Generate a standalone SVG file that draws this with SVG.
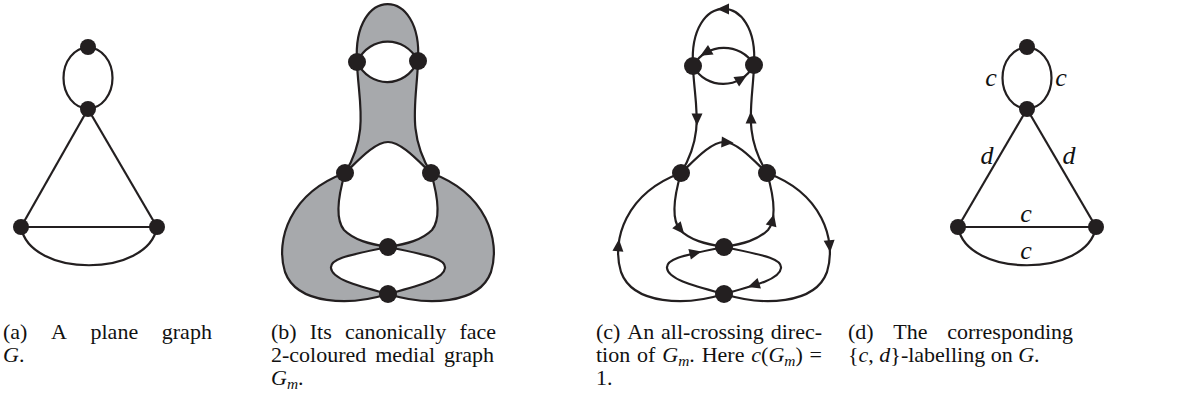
<svg xmlns="http://www.w3.org/2000/svg" width="1198" height="404" viewBox="0 0 1198 404">
<style>
.e{fill:none;stroke:#231f20;stroke-width:2.2}
.n{fill:#231f20}
.sh{fill:#a7a9ac}
.wh{fill:#fff}
.cap{font-family:"Liberation Serif","Times New Roman",serif;font-size:22px;fill:#111}
.it{font-style:italic}
.sub{font-style:italic;font-size:15.4px}
.lbl{font-family:"Liberation Serif","Times New Roman",serif;font-style:italic;font-size:26px;fill:#111;text-anchor:middle}
</style>
<defs>
<path id="ar" d="M6.5,0 L-5.5,-5.5 L-5.5,5.5 Z" fill="#231f20"/>
<circle id="ns" r="8" class="n"/>
<circle id="nb" r="9" class="n"/>
</defs>
<rect width="1198" height="404" fill="#fff"/>

<!-- (a) -->
<g id="panel-a">
<g id="a-connectors" class="e">
<ellipse cx="88" cy="78" rx="24.5" ry="30.5"/>
<line x1="88" y1="109" x2="21" y2="227"/>
<line x1="88" y1="109" x2="157" y2="227"/>
<line x1="21" y1="227" x2="157" y2="227"/>
<path d="M21,227 C30,278 148,278 157,227"/>
</g>
<g id="a-n1"><use href="#ns" x="88" y="47"/></g>
<g id="a-n2"><use href="#ns" x="88" y="109"/></g>
<g id="a-n3"><use href="#ns" x="21" y="227"/></g>
<g id="a-n4"><use href="#ns" x="157" y="227"/></g>
</g>

<!-- (b) -->
<g id="panel-b">
<g id="b-faces">
<path class="sh" d="M388,294 C350,306 297,305 285,272 C275,240 290,193 345,173 C370,132 358,100 357,62 C352,-15 423,-15 418,61 C417,100 406,132 431,173 C486,193 501,240 491,272 C479,305 426,306 388,294 Z"/>
<path class="wh" d="M357,62 C370,35 405,35 418,61 C405,89 370,89 357,62 Z"/>
<path class="wh" d="M345,173 C356,163 374,142 388,142 C402,142 420,163 431,173 C439,200 440,220 432,230 C422,240 407,244 388,247 C369,244 354,240 344,230 C336,220 337,200 345,173 Z"/>
<path class="wh" d="M388,247 C350,255 330,258 331,268 C332,279 355,285 388,294 C421,285 444,279 445,268 C446,258 426,255 388,247 Z"/>
</g>
<g id="b-connectors" class="e">
<path d="M357,62 C352,-15 423,-15 418,61"/>
<path d="M357,62 C370,35 405,35 418,61"/>
<path d="M357,62 C370,89 405,89 418,61"/>
<path d="M357,62 C358,100 370,132 345,173"/>
<path d="M418,61 C417,100 406,132 431,173"/>
<path d="M345,173 C356,163 374,142 388,142 C402,142 420,163 431,173"/>
<path d="M345,173 C337,200 336,220 344,230 C354,240 369,244 388,247"/>
<path d="M431,173 C439,200 440,220 432,230 C422,240 407,244 388,247"/>
<path d="M345,173 C290,193 275,240 285,272 C297,305 350,306 388,294"/>
<path d="M431,173 C486,193 501,240 491,272 C479,305 426,306 388,294"/>
<path d="M388,247 C350,255 330,258 331,268 C332,279 355,285 388,294"/>
<path d="M388,247 C426,255 446,258 445,268 C444,279 421,285 388,294"/>
</g>
<g id="b-n1"><use href="#nb" x="357" y="62"/></g>
<g id="b-n2"><use href="#nb" x="418" y="61"/></g>
<g id="b-n3"><use href="#nb" x="345" y="173"/></g>
<g id="b-n4"><use href="#nb" x="431" y="173"/></g>
<g id="b-n5"><use href="#nb" x="388" y="247"/></g>
<g id="b-n6"><use href="#nb" x="388" y="294"/></g>
</g>

<!-- (c) -->
<g id="panel-c">
<g id="c-connectors" class="e">
<path d="M754,65 C759,-10 688,-10 693,66"/>
<path d="M754,65 C741,42 706,42 693,66"/>
<path d="M693,66 C706,90 741,90 754,65"/>
<path d="M693,66 C694,103 706,132 681,173"/>
<path d="M767,173 C742,132 753,103 754,65"/>
<path d="M681,173 C692,163 710,142 724,142 C738,142 756,163 767,173"/>
<path d="M681,173 C673,200 672,220 680,230 C690,240 705,244 724,247"/>
<path d="M724,247 C743,244 758,240 768,230 C776,220 775,200 767,173"/>
<path d="M724,294 C686,306 633,305 621,272 C611,240 626,193 681,173"/>
<path d="M767,173 C822,193 837,240 827,272 C815,305 762,306 724,294"/>
<path d="M724,294 C691,285 668,279 667,268 C666,258 686,255 724,247"/>
<path d="M724,247 C762,255 782,258 781,268 C780,279 757,285 724,294"/>
</g>
<g id="c-arrows">
<use href="#ar" transform="translate(723.5,9) rotate(180)"/>
<use href="#ar" transform="translate(706,52.5) rotate(150)"/>
<use href="#ar" transform="translate(741,79) rotate(-31)"/>
<use href="#ar" transform="translate(697,119) rotate(90)"/>
<use href="#ar" transform="translate(751,118) rotate(-91)"/>
<use href="#ar" transform="translate(727,142.3) rotate(4)"/>
<use href="#ar" transform="translate(680,229) rotate(50)"/>
<use href="#ar" transform="translate(772.4,220.6) rotate(-76)"/>
<use href="#ar" transform="translate(618.4,245.8) rotate(-85)"/>
<use href="#ar" transform="translate(829.6,245.8) rotate(85)"/>
<use href="#ar" transform="translate(695,253) rotate(-13)"/>
<use href="#ar" transform="translate(754,285) rotate(162)"/>
</g>
<g id="c-n1"><use href="#nb" x="693" y="66"/></g>
<g id="c-n2"><use href="#nb" x="754" y="65"/></g>
<g id="c-n3"><use href="#nb" x="681" y="173"/></g>
<g id="c-n4"><use href="#nb" x="767" y="173"/></g>
<g id="c-n5"><use href="#nb" x="724" y="247"/></g>
<g id="c-n6"><use href="#nb" x="724" y="294"/></g>
</g>

<!-- (d) -->
<g id="panel-d">
<g id="d-connectors" class="e">
<ellipse cx="1027" cy="78" rx="24.5" ry="30.5"/>
<line x1="1027" y1="109" x2="958" y2="227"/>
<line x1="1027" y1="109" x2="1096" y2="227"/>
<line x1="958" y1="227" x2="1096" y2="227"/>
<path d="M958,227 C967,278 1087,278 1096,227"/>
</g>
<g id="d-labels">
<text class="lbl" x="991" y="86">c</text>
<text class="lbl" x="1061" y="86">c</text>
<text class="lbl" x="987" y="164">d</text>
<text class="lbl" x="1069" y="164">d</text>
<text class="lbl" x="1026" y="222">c</text>
<text class="lbl" x="1026" y="259">c</text>
</g>
<g id="d-n1"><use href="#ns" x="1027" y="47"/></g>
<g id="d-n2"><use href="#ns" x="1027" y="109"/></g>
<g id="d-n3"><use href="#ns" x="958" y="227"/></g>
<g id="d-n4"><use href="#ns" x="1096" y="227"/></g>
</g>

<!-- captions -->
<g id="caption-a" class="cap">
<text y="339"><tspan x="3">(a)</tspan><tspan x="51">A</tspan><tspan x="90.5">plane</tspan><tspan x="161.8">graph</tspan></text>
<text y="362"><tspan x="3" class="it">G</tspan><tspan>.</tspan></text>
</g>
<g id="caption-b" class="cap">
<text y="339"><tspan x="271">(b)</tspan><tspan x="309.8">Its</tspan><tspan x="344.9">canonically</tspan><tspan x="459.4">face</tspan></text>
<text y="362"><tspan x="271">2-coloured</tspan><tspan x="375.2">medial</tspan><tspan x="443.9">graph</tspan></text>
<text y="385"><tspan x="271" class="it">G</tspan><tspan class="sub" dy="4">m</tspan><tspan dy="-4">.</tspan></text>
</g>
<g id="caption-c" class="cap">
<text y="339"><tspan x="596">(c)</tspan><tspan x="627.3">An</tspan><tspan x="661.1">all-crossing</tspan><tspan x="770.7">direc-</tspan></text>
<text y="362"><tspan x="596">tion</tspan><tspan x="637.1">of</tspan><tspan x="662.3" class="it">G</tspan><tspan class="sub" dy="4">m</tspan><tspan dy="-4">.</tspan><tspan x="701.7">Here</tspan><tspan x="751.3" class="it">c</tspan><tspan>(</tspan><tspan class="it">G</tspan><tspan class="sub" dy="4">m</tspan><tspan dy="-4">)</tspan><tspan x="809.6">=</tspan></text>
<text y="385"><tspan x="596">1.</tspan></text>
</g>
<g id="caption-d" class="cap">
<text y="339"><tspan x="848">(d)</tspan><tspan x="893.3">The</tspan><tspan x="947.2">corresponding</tspan></text>
<text y="362"><tspan x="848">{</tspan><tspan class="it">c</tspan><tspan>, </tspan><tspan class="it">d</tspan><tspan>}-labelling on </tspan><tspan class="it">G</tspan><tspan>.</tspan></text>
</g>
</svg>
